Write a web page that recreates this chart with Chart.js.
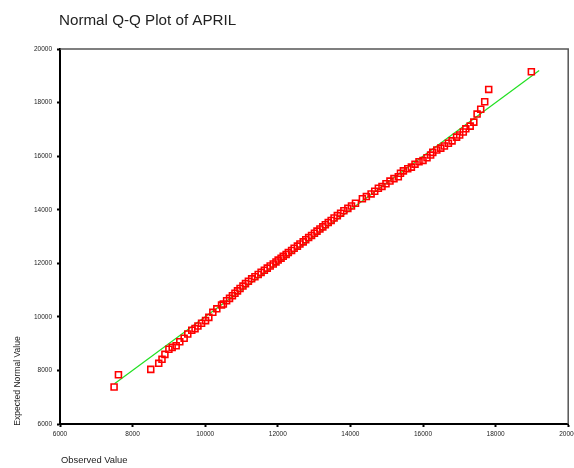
<!DOCTYPE html>
<html>
<head>
<meta charset="utf-8">
<script src="https://cdn.jsdelivr.net/npm/chart.js@4/dist/chart.umd.min.js"></script>
<style>
  html, body { margin: 0; padding: 0; background: #fff; }
  #qq { display: block; }
</style>
</head>
<body>
<canvas id="qq" width="574" height="468"></canvas>
<script>
const observed = [
  7490, 7610, 8500, 8720, 8810, 8890, 9000, 9090, 9200, 9300, 9420, 9520, 9630, 9720, 9800, 9900,
  10010, 10100, 10210, 10320, 10450, 10500, 10590,
  10670, 10750, 10820, 10890, 10960, 11040, 11110, 11190, 11280, 11370, 11460, 11540, 11630, 11710,
  11790, 11875, 11950, 12010, 12090, 12150, 12230, 12290, 12380, 12450, 12540, 12610, 12700, 12770,
  12850, 12930, 13010, 13080, 13160, 13240, 13310, 13390, 13470, 13550, 13640, 13730, 13820, 13930,
  14030, 14140,
  14330, 14440, 14570, 14670, 14770, 14870, 14980, 15090, 15200, 15320, 15380, 15460, 15580, 15680,
  15780, 15890, 16000, 16110, 16210, 16270, 16380, 16490, 16590, 16700, 16800, 16925, 17010, 17110,
  17180, 17300, 17400, 17490, 17590, 17700, 17810, 18985
];
const expected = [
  7380, 7840, 8040, 8265, 8415, 8600, 8790, 8860, 8920, 9070, 9200, 9360, 9500, 9560, 9660, 9760,
  9860, 9980, 10170, 10300, 10440, 10480, 10600,
  10690, 10790, 10880, 10970, 11060, 11150, 11240, 11330, 11420, 11500, 11580, 11660, 11740, 11820,
  11900, 11975, 12050, 12120, 12190, 12260, 12330, 12400, 12480, 12560, 12640, 12720, 12800, 12880,
  12960, 13040, 13120, 13200, 13280, 13360, 13440, 13520, 13600, 13690, 13780, 13870, 13960, 14050,
  14140, 14240,
  14410, 14490, 14590, 14690, 14800, 14870, 14970, 15070, 15160, 15230, 15360, 15450, 15530, 15590,
  15700, 15790, 15840, 15940, 16040, 16140, 16230, 16300, 16380, 16480, 16570, 16710, 16790, 16900,
  17020, 17120, 17270, 17570, 17750, 18030, 18490, 19150
];
// reference line (y = x) end points
const lineX = [7500, 19200];
const lineY = [7500, 19200];
const axisMin = 6000;
const axisMax = 20000;
const axisStep = 2000;

const FONT = "'Liberation Sans', Arial, sans-serif";

const frame = {
  id: 'frame',
  afterDraw(chart) {
    const c = chart.ctx, a = chart.chartArea;
    c.save();
    // top and right frame lines
    c.strokeStyle = '#555';
    c.lineWidth = 1.5;
    c.beginPath();
    c.moveTo(a.left, a.top);
    c.lineTo(a.right, a.top);
    c.lineTo(a.right, a.bottom);
    c.stroke();
    c.fillStyle = '#222';
    c.font = '15.2px ' + FONT;
    c.textAlign = 'left';
    c.textBaseline = 'alphabetic';
    c.fillText('Normal Q-Q Plot of APRIL', 59, 25);
    c.font = '9.4px ' + FONT;
    c.fillText('Observed Value', 61, 463);
    c.font = '8.6px ' + FONT;
    c.translate(20, 381);
    c.rotate(-Math.PI / 2);
    c.textAlign = 'center';
    c.fillText('Expected Normal Value', 0, 0);
    c.restore();
  }
};

const axisOpts = {
  type: 'linear',
  min: axisMin,
  max: axisMax,
  border: { color: '#000', width: 2 },
  grid: { drawOnChartArea: false, drawTicks: true, tickLength: 3, tickColor: '#000', tickWidth: 2 },
  ticks: { stepSize: axisStep, color: '#222', font: { family: FONT, size: 6.5 }, callback: v => String(v) }
};

new Chart(document.getElementById('qq').getContext('2d'), {
  type: 'scatter',
  data: {
    datasets: [{
      label: 'APRIL',
      data: observed.map((v, i) => ({ x: v, y: expected[i] })),
      pointStyle: 'rect',
      pointRadius: 4.2,
      borderColor: '#ff0000',
      borderWidth: 1.6,
      backgroundColor: 'rgba(0,0,0,0)'
    }, {
      type: 'line',
      label: 'fit',
      data: lineX.map((v, i) => ({ x: v, y: lineY[i] })),
      borderColor: '#22e022',
      borderWidth: 1.2,
      pointRadius: 0,
      fill: false
    }]
  },
  options: {
    responsive: false,
    animation: false,
    layout: { padding: { top: 49, right: 1, left: 0, bottom: 0 } },
    plugins: { legend: { display: false }, tooltip: { enabled: false } },
    scales: {
      x: Object.assign({}, axisOpts, {
        ticks: Object.assign({}, axisOpts.ticks, { padding: 3, maxRotation: 0, autoSkip: false }),
        afterFit(s) { s.height = 44; s.paddingLeft = 0; s.paddingRight = 0; }
      }),
      y: Object.assign({}, axisOpts, {
        ticks: Object.assign({}, axisOpts.ticks, { padding: 5 }),
        afterFit(s) { s.width = 60; s.paddingTop = 0; s.paddingBottom = 0; }
      })
    }
  },
  plugins: [frame]
});
</script>
</body>
</html>
